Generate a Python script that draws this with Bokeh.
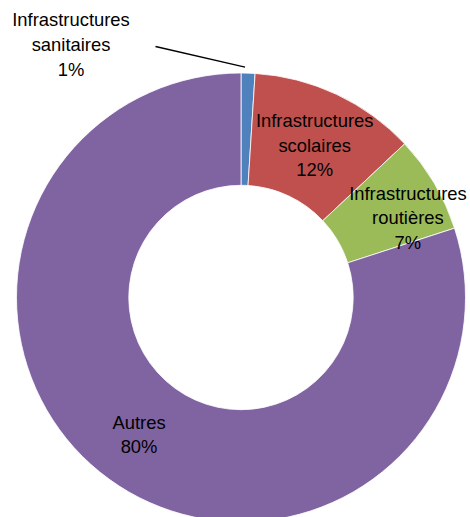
import math
from bokeh.plotting import figure
from bokeh.models import Range1d, ColumnDataSource
from bokeh.core.properties import value
from bokeh.embed import file_html
from bokeh.resources import INLINE

# Data
categories = ["Infrastructures sanitaires", "Infrastructures scolaires",
              "Infrastructures routières", "Autres"]
label_texts = ["Infrastructures\nsanitaires\n1%", "Infrastructures\nscolaires\n12%",
               "Infrastructures\nroutières\n7%", "Autres\n80%"]
shares = [1, 12, 7, 80]
colors = ["#4F81BD", "#C0504D", "#9BBB59", "#8064A2"]

# Layout (pixels)
W, H = 470, 517
cx, cy = 240.5, H - 297
r_out, r_in = 224.5, 112.2
# label offsets relative to default mid-ring position (dx, dy)
label_dx = [-175, 2, 22, -3]
label_dy = [0, 0, -6, -1]

total = sum(shares)
starts, ends, lx, ly = [], [], [], []
cum = 0.0
for i, s in enumerate(shares):
    a0 = math.pi / 2 - 2 * math.pi * cum / total
    cum += s
    a1 = math.pi / 2 - 2 * math.pi * cum / total
    starts.append(a0)
    ends.append(a1)
    mid = (a0 + a1) / 2
    rm = (r_out + r_in) / 2
    if i == 0:
        # outside label
        lx.append(70.5)
        ly.append(H - 44.0)
    else:
        lx.append(cx + rm * math.cos(mid) + label_dx[i])
        ly.append(cy + rm * math.sin(mid) + label_dy[i])

src = ColumnDataSource(dict(start=starts, end=ends, color=colors, cat=categories))
lsrc = ColumnDataSource(dict(x=lx, y=ly, text=label_texts))

p = figure(width=W, height=H, x_range=Range1d(0, W), y_range=Range1d(0, H),
           output_backend="svg", toolbar_location=None, min_border=0,
           outline_line_color=None, background_fill_color="white")
p.axis.visible = False
p.grid.visible = False

p.annular_wedge(x=cx, y=cy, inner_radius=r_in, outer_radius=r_out,
                start_angle="start", end_angle="end", direction="clock",
                fill_color="color", line_color="white", line_width=0.8,
                source=src)

# leader line for the small slice
mid0 = (starts[0] + ends[0]) / 2
p.line(x=[155, cx + r_out * math.cos(mid0) - 3], y=[H - 46, cy + r_out * math.sin(mid0) + 6],
       line_color="black", line_width=1.3)

p.text(x="x", y="y", text="text", source=lsrc, text_align="center",
       text_baseline="middle", text_font=value("Liberation Sans"),
       text_font_size="18.4px", text_color="black", text_line_height=1.17)

open("out.html", "w").write(file_html(p, INLINE))
